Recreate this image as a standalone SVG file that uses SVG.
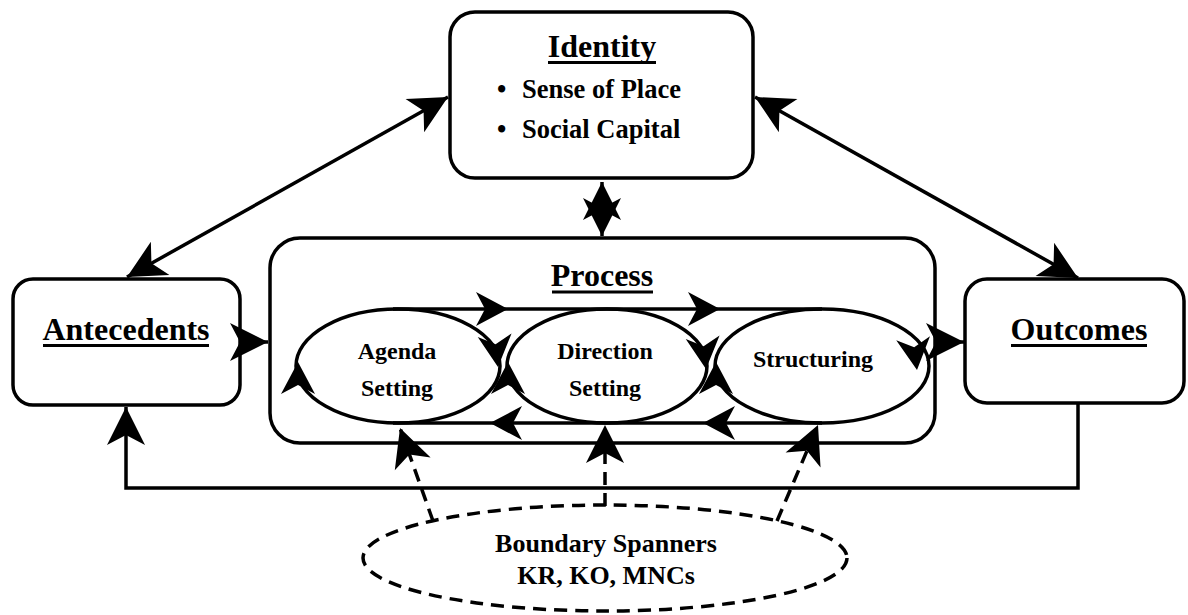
<svg xmlns="http://www.w3.org/2000/svg" xmlns:xlink="http://www.w3.org/1999/xlink" width="1188" height="615" viewBox="0 0 1188 615">
<style>
.box{fill:#fff;stroke:#000;stroke-width:3.5}
.ell{fill:#fff;stroke:#000;stroke-width:3.5}
.t{font-family:"Liberation Serif","Times New Roman",serif;font-weight:bold;fill:#000}
.h{font-size:32px;text-anchor:middle}
.b{font-size:26.5px}
.s{font-size:24px;text-anchor:middle}
.bs{font-size:26px;text-anchor:middle}
.ul{stroke:#000;stroke-width:3}
.c{fill:none;stroke:#000;stroke-width:3.5}
.d{fill:none;stroke:#000;stroke-width:3.5;stroke-dasharray:13 8}
</style>
<defs>
<marker id="arr" markerUnits="userSpaceOnUse" orient="auto-start-reverse" viewBox="-40 -20 40 40" markerWidth="40" markerHeight="40" refX="0" refY="0" overflow="visible">
<path d="M0,0 L-38,-19 L-28,0 L-38,19 Z" fill="#000"/>
</marker>
<path id="sh" d="M0,0 L-32,-17 L-23,0 L-32,17 Z" fill="#000"/>
</defs>

<g id="identity">
<rect class="box" x="450" y="12" width="303" height="166" rx="25"/>
<text class="t h" x="602" y="57">Identity</text>
<line class="ul" x1="548" y1="62.5" x2="656" y2="62.5"/>
<text class="t b" y="98"><tspan x="497">•</tspan><tspan x="522">Sense of Place</tspan></text>
<text class="t b" y="138"><tspan x="497">•</tspan><tspan x="522">Social Capital</tspan></text>
</g>

<g id="antecedents">
<rect class="box" x="13" y="279" width="227" height="126" rx="20"/>
<text class="t h" x="126" y="340">Antecedents</text>
<line class="ul" x1="43" y1="345.5" x2="209" y2="345.5"/>
</g>

<g id="outcomes">
<rect class="box" x="965" y="279" width="219" height="124" rx="22"/>
<text class="t h" x="1079" y="340">Outcomes</text>
<line class="ul" x1="1011" y1="345.5" x2="1147" y2="345.5"/>
</g>

<g id="process">
<rect class="box" x="270" y="238" width="665" height="205" rx="30"/>
<text class="t h" x="602" y="286">Process</text>
<line class="ul" x1="552" y1="292" x2="653" y2="292"/>
</g>

<g id="agenda-setting">
<ellipse class="ell" cx="398" cy="366" rx="102" ry="57"/>
<text class="t s" x="397" y="359">Agenda</text>
<text class="t s" x="397" y="396">Setting</text>
</g>

<g id="direction-setting">
<ellipse class="ell" cx="607" cy="366" rx="100" ry="57"/>
<text class="t s" x="605" y="359">Direction</text>
<text class="t s" x="605" y="396">Setting</text>
</g>

<g id="structuring">
<ellipse class="ell" cx="822" cy="366" rx="107" ry="57"/>
<text class="t s" x="813" y="367">Structuring</text>
</g>

<g id="boundary-spanners">
<ellipse class="d" cx="605" cy="558" rx="242" ry="53"/>
<text class="t bs" x="606" y="552">Boundary Spanners</text>
<text class="t bs" x="606" y="584">KR, KO, MNCs</text>
</g>

<g id="connectors">
<line class="c" x1="127" y1="277" x2="448" y2="97" marker-start="url(#arr)" marker-end="url(#arr)"/>
<line class="c" x1="755" y1="97" x2="1078" y2="278" marker-start="url(#arr)" marker-end="url(#arr)"/>
<line class="c" x1="602" y1="182" x2="602" y2="236" marker-start="url(#arr)" marker-end="url(#arr)"/>
<line class="c" x1="240" y1="342" x2="268" y2="342" marker-end="url(#arr)"/>
<line class="c" x1="935" y1="342" x2="964" y2="342" marker-end="url(#arr)"/>
<path class="c" d="M1078,404 V488 H126 V407" marker-end="url(#arr)"/>
<path class="c" d="M393,309 H822"/>
<path class="c" d="M822,423 H393"/>
<use xlink:href="#sh" href="#sh" transform="translate(508,309)"/>
<use xlink:href="#sh" href="#sh" transform="translate(720,309)"/>
<use xlink:href="#sh" href="#sh" transform="translate(490,423) rotate(180)"/>
<use xlink:href="#sh" href="#sh" transform="translate(703,423) rotate(180)"/>
<use xlink:href="#sh" href="#sh" transform="translate(298,362) rotate(-90)"/>
<use xlink:href="#sh" href="#sh" transform="translate(498,367) rotate(84)"/>
<use xlink:href="#sh" href="#sh" transform="translate(508,362) rotate(-90)"/>
<use xlink:href="#sh" href="#sh" transform="translate(706,369) rotate(84)"/>
<use xlink:href="#sh" href="#sh" transform="translate(716,362) rotate(-90)"/>
<use xlink:href="#sh" href="#sh" transform="translate(917,370) rotate(83)"/>
<line class="d" x1="433" y1="521" x2="400" y2="428" marker-end="url(#arr)"/>
<line class="d" x1="605" y1="506" x2="605" y2="425" marker-end="url(#arr)"/>
<line class="d" x1="777" y1="521" x2="818" y2="425" marker-end="url(#arr)"/>
</g>
</svg>
